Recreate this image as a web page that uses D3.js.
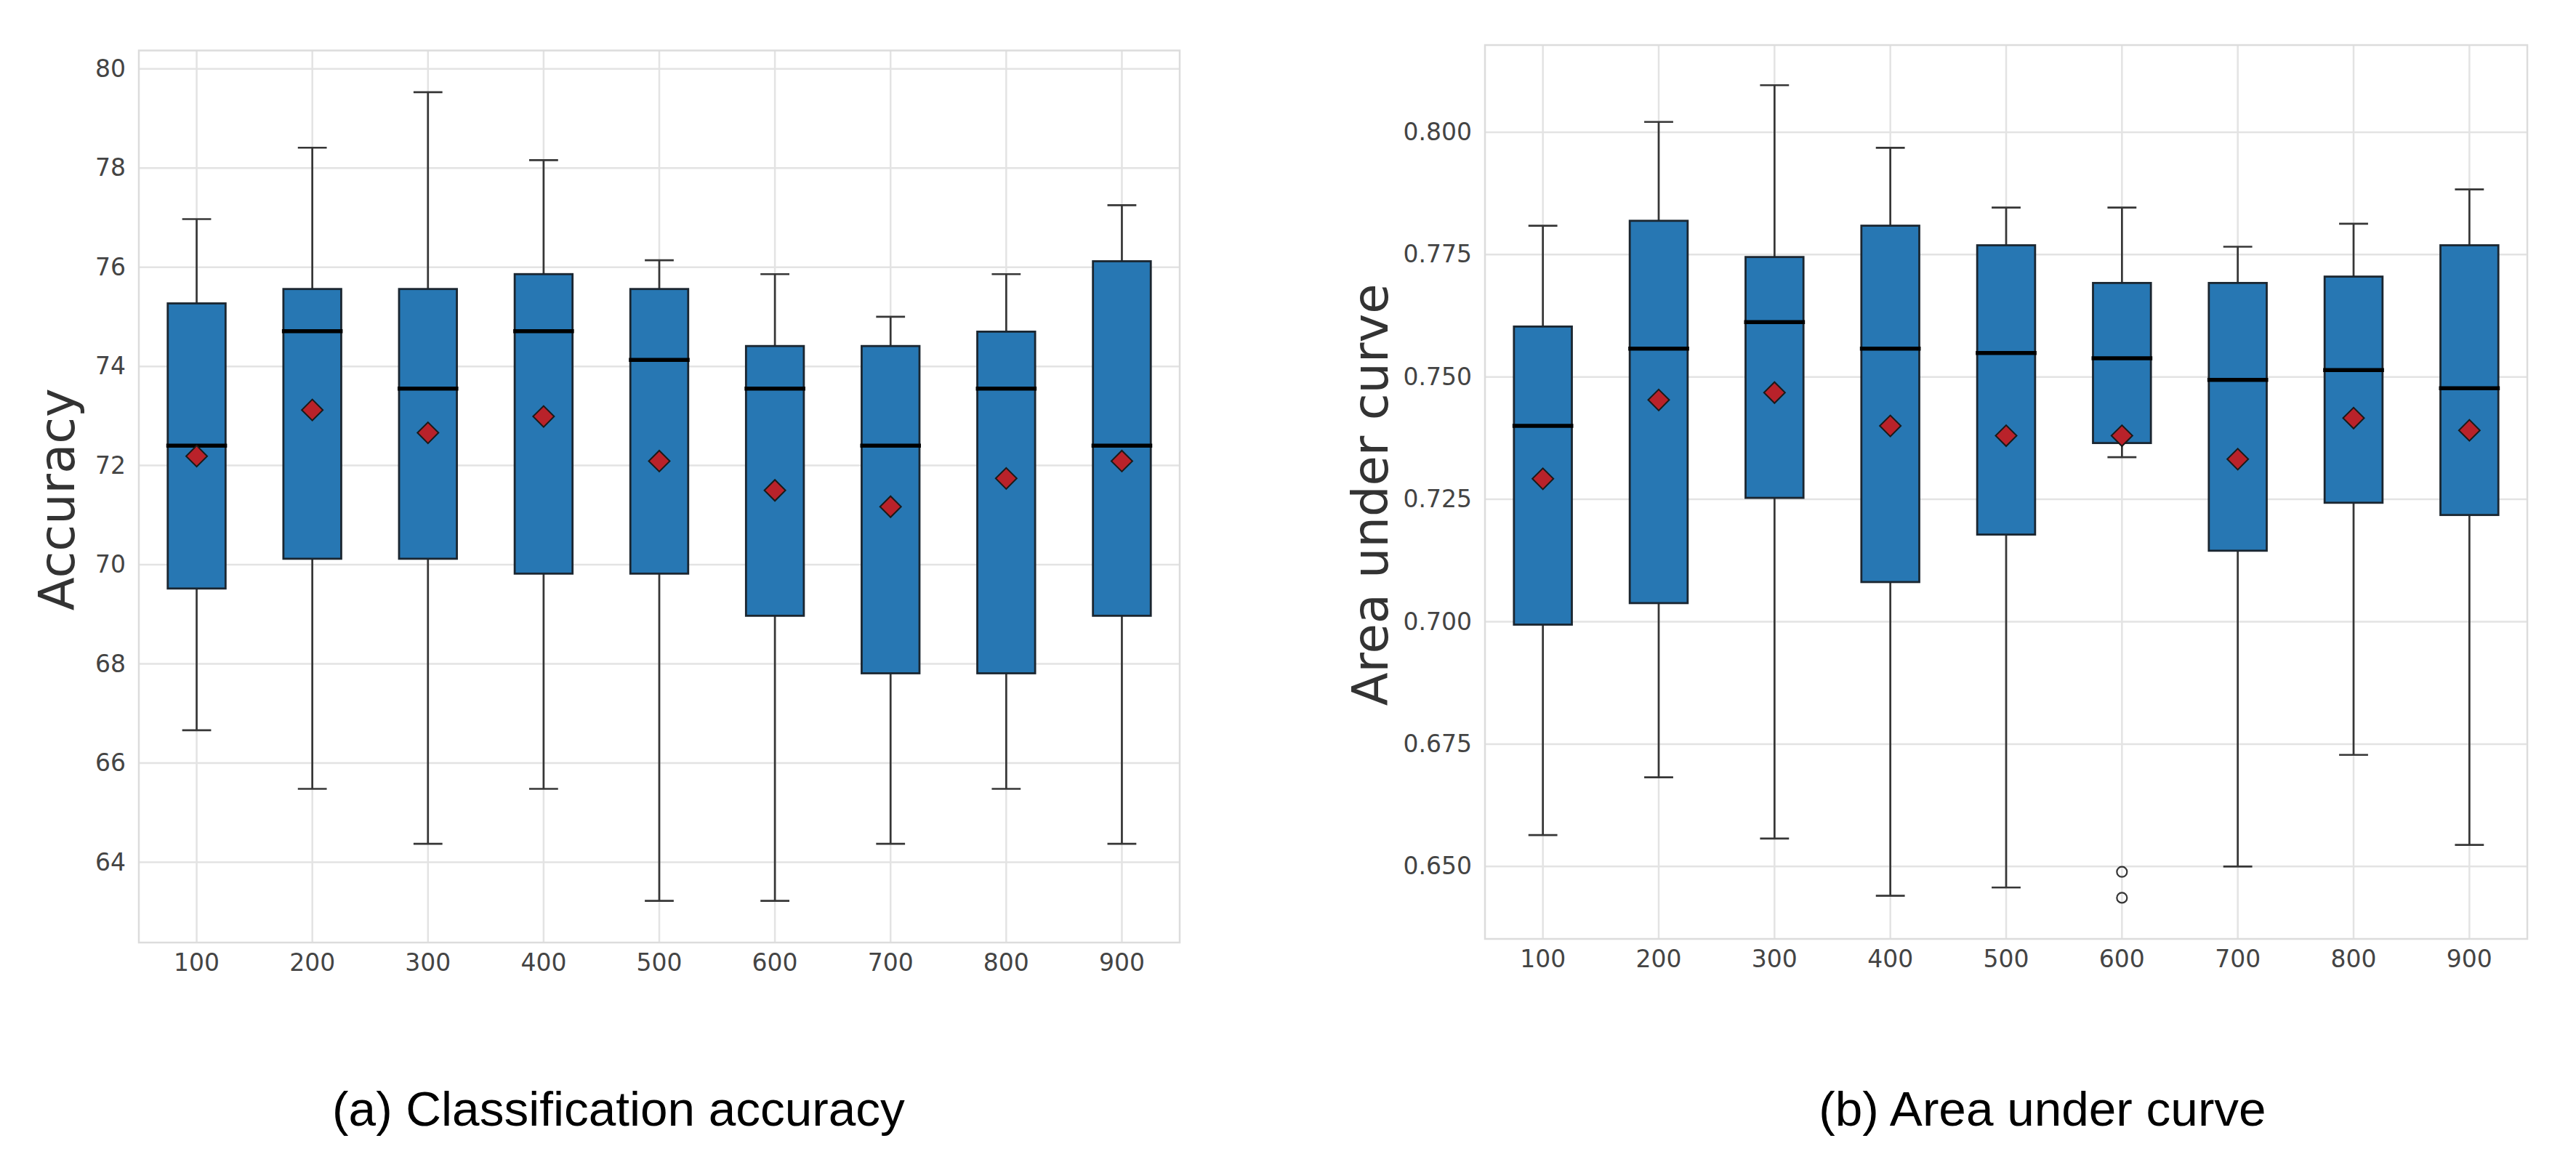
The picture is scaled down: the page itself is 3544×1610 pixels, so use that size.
<!DOCTYPE html>
<html>
<head>
<meta charset="utf-8">
<script src="https://cdn.jsdelivr.net/npm/d3@7/dist/d3.min.js"></script>
<style>
  html, body { margin: 0; padding: 0; background: #ffffff; }
  svg { display: block; }
</style>
</head>
<body>
<svg id="chart" width="3544" height="1610"></svg>
<script>
// ---------- DATA ----------
const categories = ["100", "200", "300", "400", "500", "600", "700", "800", "900"];

// (a) Classification accuracy
const accWhiskerLow = [66.66, 65.48, 64.37, 65.48, 63.22, 63.22, 64.37, 65.48, 64.37];
const accQ1         = [69.52, 70.12, 70.12, 69.82, 69.82, 68.97, 67.81, 67.81, 68.97];
const accMedian     = [72.40, 74.71, 73.55, 74.71, 74.13, 73.55, 72.40, 73.55, 72.40];
const accQ3         = [75.27, 75.56, 75.56, 75.86, 75.56, 74.41, 74.41, 74.70, 76.12];
const accWhiskerHigh= [76.97, 78.41, 79.53, 78.16, 76.14, 75.86, 75.00, 75.86, 77.25];
const accMean       = [72.19, 73.12, 72.66, 72.99, 72.09, 71.50, 71.17, 71.74, 72.09];
const accTicks      = [64, 66, 68, 70, 72, 74, 76, 78, 80];

// (b) Area under curve
const aucWhiskerLow = [0.6564, 0.6682, 0.6557, 0.6440, 0.6457, 0.7336, 0.6500, 0.6728, 0.6544];
const aucQ1         = [0.6994, 0.7038, 0.7253, 0.7081, 0.7178, 0.7365, 0.7145, 0.7243, 0.7218];
const aucMedian     = [0.7400, 0.7558, 0.7612, 0.7558, 0.7549, 0.7538, 0.7494, 0.7514, 0.7477];
const aucQ3         = [0.7603, 0.7819, 0.7745, 0.7809, 0.7769, 0.7692, 0.7692, 0.7705, 0.7769];
const aucWhiskerHigh= [0.7809, 0.8021, 0.8096, 0.7968, 0.7846, 0.7846, 0.7766, 0.7813, 0.7883];
const aucMean       = [0.7292, 0.7453, 0.7468, 0.7400, 0.7380, 0.7380, 0.7332, 0.7416, 0.7391];
const aucOutlierCat = ["600", "600"];
const aucOutlierVal = [0.6489, 0.6436];
const aucTicks      = [0.650, 0.675, 0.700, 0.725, 0.750, 0.775, 0.800];

const captionA = "(a) Classification accuracy";
const captionB = "(b) Area under curve";

// ---------- STYLE ----------
const BOX_FILL = "#2777b3";
const BOX_EDGE = "#1b2630";
const LINE = "#363636";
const GRID = "#e3e3e3";
const SPINE = "#dcdcdc";
const TICK_TEXT = "#444444";
const MEAN_FILL = "#b9222a";

const svg = d3.select("#chart");

function drawPanel(opt) {
  const g = svg.append("g");
  const x = d3.scaleBand().domain(categories).range([opt.left, opt.right]).paddingInner(0).paddingOuter(0);
  const bw = x.bandwidth();
  const cx = c => x(c) + bw / 2;
  const y = d3.scaleLinear().domain(opt.domain).range([opt.bottom, opt.top]);
  const boxW = bw * 0.5;
  const capW = bw * 0.25;

  // grid
  g.selectAll(".hgrid").data(opt.ticks).enter().append("line")
    .attr("x1", opt.left).attr("x2", opt.right)
    .attr("y1", d => y(d)).attr("y2", d => y(d))
    .attr("stroke", GRID).attr("stroke-width", 2.5);
  g.selectAll(".vgrid").data(categories).enter().append("line")
    .attr("x1", d => cx(d)).attr("x2", d => cx(d))
    .attr("y1", opt.top).attr("y2", opt.bottom)
    .attr("stroke", GRID).attr("stroke-width", 2.5);

  // spines
  g.append("rect")
    .attr("x", opt.left).attr("y", opt.top)
    .attr("width", opt.right - opt.left).attr("height", opt.bottom - opt.top)
    .attr("fill", "none").attr("stroke", SPINE).attr("stroke-width", 2.5);

  // axes (tick labels only)
  const yAxis = d3.axisLeft(y).tickValues(opt.ticks).tickSize(0).tickPadding(18).tickFormat(opt.fmt);
  const ya = g.append("g").attr("transform", `translate(${opt.left},0)`).call(yAxis);
  ya.select(".domain").remove();
  ya.selectAll("text").attr("fill", TICK_TEXT).style("font-family", "DejaVu Sans").style("font-size", "33px");

  const xAxis = d3.axisBottom(x).tickSize(0).tickPadding(16);
  const xa = g.append("g").attr("transform", `translate(0,${opt.bottom})`).call(xAxis);
  xa.select(".domain").remove();
  xa.selectAll("text").attr("fill", TICK_TEXT).style("font-family", "DejaVu Sans").style("font-size", "33px");

  const rows = categories.map((c, i) => ({
    c, lo: opt.lo[i], q1: opt.q1[i], med: opt.med[i], q3: opt.q3[i], hi: opt.hi[i], mean: opt.mean[i]
  }));

  // whiskers
  g.selectAll(".wlo").data(rows).enter().append("line")
    .attr("x1", d => cx(d.c)).attr("x2", d => cx(d.c))
    .attr("y1", d => y(d.q1)).attr("y2", d => y(d.lo))
    .attr("stroke", LINE).attr("stroke-width", 2.7);
  g.selectAll(".whi").data(rows).enter().append("line")
    .attr("x1", d => cx(d.c)).attr("x2", d => cx(d.c))
    .attr("y1", d => y(d.q3)).attr("y2", d => y(d.hi))
    .attr("stroke", LINE).attr("stroke-width", 2.7);
  // caps
  g.selectAll(".clo").data(rows).enter().append("line")
    .attr("x1", d => cx(d.c) - capW / 2).attr("x2", d => cx(d.c) + capW / 2)
    .attr("y1", d => y(d.lo)).attr("y2", d => y(d.lo))
    .attr("stroke", LINE).attr("stroke-width", 2.7);
  g.selectAll(".chi").data(rows).enter().append("line")
    .attr("x1", d => cx(d.c) - capW / 2).attr("x2", d => cx(d.c) + capW / 2)
    .attr("y1", d => y(d.hi)).attr("y2", d => y(d.hi))
    .attr("stroke", LINE).attr("stroke-width", 2.7);

  // boxes
  g.selectAll(".box").data(rows).enter().append("rect")
    .attr("x", d => cx(d.c) - boxW / 2).attr("width", boxW)
    .attr("y", d => y(d.q3)).attr("height", d => y(d.q1) - y(d.q3))
    .attr("fill", BOX_FILL).attr("stroke", BOX_EDGE).attr("stroke-width", 2.8);

  // medians
  g.selectAll(".med").data(rows).enter().append("line")
    .attr("x1", d => cx(d.c) - boxW / 2 - 2).attr("x2", d => cx(d.c) + boxW / 2 + 2)
    .attr("y1", d => y(d.med)).attr("y2", d => y(d.med))
    .attr("stroke", "#000000").attr("stroke-width", 5.5);

  // means (diamonds)
  const diamond = d3.symbol().type(d3.symbolSquare).size(20.5 * 20.5);
  g.selectAll(".mean").data(rows).enter().append("path")
    .attr("d", diamond)
    .attr("transform", d => `translate(${cx(d.c)},${y(d.mean)}) rotate(45)`)
    .attr("fill", MEAN_FILL).attr("stroke", "#1a1a1a").attr("stroke-width", 2);

  // outliers
  if (opt.outCat) {
    g.selectAll(".out").data(opt.outCat.map((c, i) => ({ c, v: opt.outVal[i] }))).enter().append("circle")
      .attr("cx", d => cx(d.c)).attr("cy", d => y(d.v)).attr("r", 7)
      .attr("fill", "none").attr("stroke", LINE).attr("stroke-width", 2.2);
  }

  // y label
  g.append("text")
    .attr("transform", `translate(${opt.ylabX},${(opt.top + opt.bottom) / 2 + 4}) rotate(-90)`)
    .attr("text-anchor", "middle")
    .attr("fill", "#333333")
    .style("font-family", "DejaVu Sans").style("font-size", "67px")
    .text(opt.ylabel);

  // caption
  svg.append("text")
    .attr("x", opt.capX).attr("y", 1549)
    .attr("text-anchor", "middle")
    .attr("fill", "#000000")
    .style("font-family", "Liberation Sans, Arial, Helvetica, sans-serif").style("font-size", "67.5px")
    .text(opt.caption);
}

drawPanel({
  left: 191, right: 1623, top: 69.5, bottom: 1297,
  domain: [62.38, 80.37], ticks: accTicks, fmt: d3.format("d"),
  lo: accWhiskerLow, q1: accQ1, med: accMedian, q3: accQ3, hi: accWhiskerHigh, mean: accMean,
  ylabel: "Accuracy", ylabX: 102, caption: captionA, capX: 851
});

drawPanel({
  left: 2043, right: 3477, top: 62, bottom: 1292,
  domain: [0.6352, 0.8178], ticks: aucTicks, fmt: d3.format(".3f"),
  lo: aucWhiskerLow, q1: aucQ1, med: aucMedian, q3: aucQ3, hi: aucWhiskerHigh, mean: aucMean,
  outCat: aucOutlierCat, outVal: aucOutlierVal,
  ylabel: "Area under curve", ylabX: 1909, caption: captionB, capX: 2810
});
</script>
</body>
</html>
